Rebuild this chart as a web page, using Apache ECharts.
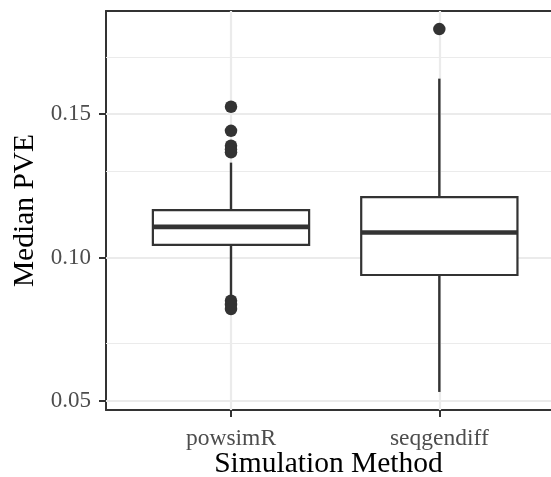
<!DOCTYPE html>
<html>
<head>
<meta charset="utf-8">
<script src="https://cdn.jsdelivr.net/npm/echarts@6/dist/echarts.min.js"></script>
<style>
html,body{margin:0;padding:0;background:#fff;}
#chart{width:551px;height:477px;}
</style>
</head>
<body>
<div id="chart"></div>
<script>
// ---- data ----
const categories = ['powsimR', 'seqgendiff'];
// [lower whisker, Q1, median, Q3, upper whisker]
const boxStats = [
  [0.0865, 0.1044, 0.1107, 0.1165, 0.1331],
  [0.0531, 0.0939, 0.1087, 0.1211, 0.1624]
];
const outliersPowsimR = [0.1526, 0.1442, 0.1390, 0.1377, 0.1367, 0.0849, 0.0835, 0.0820];
const outliersSeqgendiff = [0.1797];
const yMajorTicks = [0.05, 0.10, 0.15];
const yMinorGrid = [0.075, 0.125, 0.175];
const yLabels = ['0.05', '0.10', '0.15'];

// ---- build ----
const boxData = boxStats.map((s, i) => [i + 1].concat(s));
const outlierData = [];
outliersPowsimR.forEach(v => outlierData.push([1, v]));
outliersSeqgendiff.forEach(v => outlierData.push([2, v]));

const gridLines = [];
yMinorGrid.forEach(v => gridLines.push({yAxis: v, lineStyle: {width: 1.2}}));
yMajorTicks.forEach(v => gridLines.push({yAxis: v, lineStyle: {width: 2.2}}));
categories.forEach((c, i) => gridLines.push({xAxis: i + 1, lineStyle: {width: 2.2}}));

const ink = '#333333';
const font = '"Liberation Serif", "DejaVu Serif", serif';

const chart = echarts.init(document.getElementById('chart'), null, {renderer: 'canvas'});
chart.setOption({
  animation: false,
  backgroundColor: '#ffffff',
  grid: {
    left: 106, right: 0, top: 11, bottom: 67,
    show: false, containLabel: false, outerBoundsMode: 'none'
  },
  xAxis: [{
    type: 'value', min: 0.4, max: 2.536,
    name: 'Simulation Method', nameLocation: 'middle', nameGap: 39, nameMoveOverlap: false,
    nameTextStyle: {fontFamily: font, fontSize: 29.5, color: '#000'},
    axisLine: {show: true, onZero: false, lineStyle: {color: ink, width: 2}},
    splitLine: {show: false},
    axisTick: {show: true, customValues: [1, 2], length: 7, lineStyle: {color: ink, width: 2}},
    axisLabel: {
      customValues: [1, 2], margin: 17,
      formatter: v => categories[Math.round(v) - 1],
      fontFamily: font, fontSize: 23.5, color: '#4D4D4D'
    }
  }, {
    type: 'value', min: 0.4, max: 2.536, position: 'top',
    axisLine: {show: true, onZero: false, lineStyle: {color: ink, width: 2}},
    axisTick: {show: false}, axisLabel: {show: false}, splitLine: {show: false}
  }],
  yAxis: {
    type: 'value', min: 0.0468, max: 0.1860,
    name: 'Median PVE', nameLocation: 'middle', nameGap: 66, nameRotate: 90,
    nameTextStyle: {fontFamily: font, fontSize: 29.5, color: '#000'},
    axisLine: {show: true, onZero: false, lineStyle: {color: ink, width: 2}},
    splitLine: {show: false},
    axisTick: {show: true, customValues: yMajorTicks, length: 7, lineStyle: {color: ink, width: 2}},
    axisLabel: {
      customValues: yMajorTicks, margin: 15,
      formatter: v => yLabels[yMajorTicks.findIndex(t => Math.abs(t - v) < 1e-9)],
      fontFamily: font, fontSize: 23, color: '#4D4D4D'
    }
  },
  series: [
    {
      type: 'line', data: [], z: 1, silent: true,
      markLine: {
        z: 1, silent: true, symbol: ['none', 'none'], label: {show: false},
        lineStyle: {color: '#EBEBEB', type: 'solid'},
        emphasis: {disabled: true},
        data: gridLines
      }
    },
    {
      type: 'scatter', data: outlierData, z: 3,
      symbol: 'circle', symbolSize: 12.5,
      itemStyle: {color: ink, opacity: 1}
    },
    {
      type: 'custom', z: 4, data: boxData,
      encode: {x: 0, y: [1, 2, 3, 4, 5]},
      renderItem: function (params, api) {
        const x = api.value(0);
        const half = api.size([0.75, 0])[0] / 2;
        const pLo = api.coord([x, api.value(1)]);
        const pQ1 = api.coord([x, api.value(2)]);
        const pMed = api.coord([x, api.value(3)]);
        const pQ3 = api.coord([x, api.value(4)]);
        const pHi = api.coord([x, api.value(5)]);
        return {
          type: 'group',
          children: [
            {type: 'line', shape: {x1: pHi[0], y1: pHi[1], x2: pQ3[0], y2: pQ3[1]},
              style: {stroke: ink, lineWidth: 2.4}},
            {type: 'line', shape: {x1: pLo[0], y1: pLo[1], x2: pQ1[0], y2: pQ1[1]},
              style: {stroke: ink, lineWidth: 2.4}},
            {type: 'rect', shape: {x: pQ3[0] - half, y: pQ3[1], width: 2 * half, height: pQ1[1] - pQ3[1]},
              style: {stroke: ink, lineWidth: 2.2, fill: '#ffffff'}},
            {type: 'line', shape: {x1: pMed[0] - half, y1: pMed[1], x2: pMed[0] + half, y2: pMed[1]},
              style: {stroke: ink, lineWidth: 4.6}}
          ]
        };
      }
    }
  ]
});
</script>
</body>
</html>
